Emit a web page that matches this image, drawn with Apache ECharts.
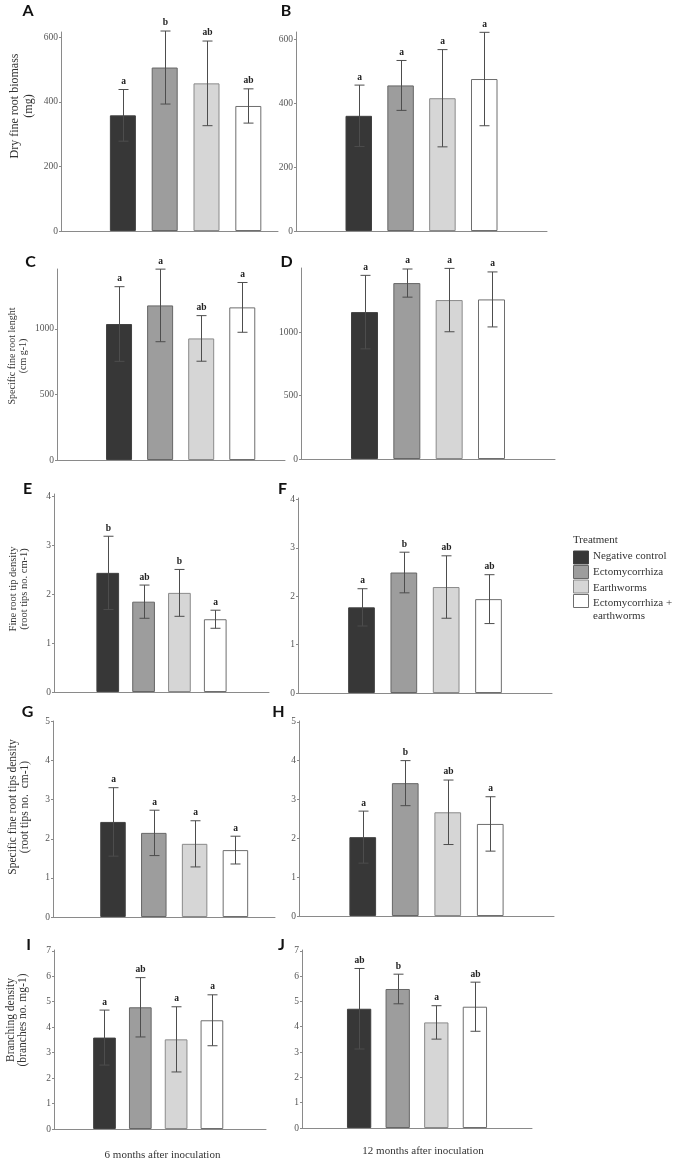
<!DOCTYPE html>
<html>
<head>
<meta charset="utf-8">
<script src="https://cdn.jsdelivr.net/npm/echarts@6/dist/echarts.min.js"></script>
<style>
html,body{margin:0;padding:0;background:#fff;}
#chart{width:685px;height:1161px;}
</style>
</head>
<body>
<div id="chart"></div>
<script>
// ---------- DATA ----------
const categories = ['Negative control', 'Ectomycorrhiza', 'Earthworms', 'Ectomycorrhiza + earthworms'];

const meanA = [358, 506, 457, 387];   const errA = [80, 113, 131, 53];     const letA = ['a', 'b', 'ab', 'ab'];
const meanB = [360, 455, 415, 475];   const errB = [96, 78, 152, 146];     const letB = ['a', 'a', 'a', 'a'];
const meanC = [1038, 1180, 928, 1165]; const errC = [285, 277, 174, 190];  const letC = ['a', 'a', 'ab', 'a'];
const meanD = [1159, 1388, 1254, 1259]; const errD = [290, 111, 250, 217]; const letD = ['a', 'a', 'a', 'a'];
const meanE = [2.44, 1.85, 2.03, 1.49]; const errE = [0.75, 0.34, 0.48, 0.185]; const letE = ['b', 'ab', 'b', 'a'];
const meanF = [1.77, 2.49, 2.19, 1.94]; const errF = [0.385, 0.42, 0.645, 0.505]; const letF = ['a', 'b', 'ab', 'ab'];
const meanG = [2.43, 2.15, 1.87, 1.71]; const errG = [0.875, 0.58, 0.59, 0.355]; const letG = ['a', 'a', 'a', 'a'];
const meanH = [2.03, 3.42, 2.67, 2.37]; const errH = [0.67, 0.58, 0.83, 0.70]; const letH = ['a', 'b', 'ab', 'a'];
const meanI = [3.59, 4.78, 3.52, 4.27]; const errI = [1.08, 1.165, 1.28, 1.0]; const letI = ['a', 'ab', 'a', 'a'];
const meanJ = [4.71, 5.49, 4.17, 4.79]; const errJ = [1.59, 0.585, 0.66, 0.97]; const letJ = ['ab', 'b', 'a', 'ab'];

const ticksBiomass = [0, 200, 400, 600];
const ticksLength = [0, 500, 1000];
const ticksTip = [0, 1, 2, 3, 4];
const ticksSpecTip = [0, 1, 2, 3, 4, 5];
const ticksBranch = [0, 1, 2, 3, 4, 5, 6, 7];

const panelLetters = ['A', 'B', 'C', 'D', 'E', 'F', 'G', 'H', 'I', 'J'];
const yTitles = [
  ['Dry fine root biomass', '(mg)'],
  ['Specific fine root lenght', '(cm g-1)'],
  ['Fine root tip density', '(root tips no. cm-1)'],
  ['Specific fine root tips density', '(root tips no.  cm-1)'],
  ['Branching density', '(branches no. mg-1)']
];
const columnTitles = ['6 months after inoculation', '12 months after inoculation'];
const legendTitle = 'Treatment';

// ---------- STYLE / LAYOUT ----------
const barColors = ['#373737', '#9d9d9d', '#d6d6d6', '#ffffff'];
const barBorders = ['#404040', '#666666', '#8a8a8a', '#6e6e6e'];
const SERIF = '"Liberation Serif", "DejaVu Serif", serif';

const panels = [
  {mean: meanA, err: errA, let: letA, ticks: ticksBiomass, left: 61,  top: 32,  width: 217, height: 199, yMax: 616,  xMin: -1.48, xMax: 3.71, barW: 26},
  {mean: meanB, err: errB, let: letB, ticks: ticksBiomass, left: 296, top: 32,  width: 251, height: 199, yMax: 622,  xMin: -1.5,  xMax: 4.5,  barW: 26.5},
  {mean: meanC, err: errC, let: letC, ticks: ticksLength,  left: 57,  top: 269, width: 228, height: 191, yMax: 1458, xMin: -1.51, xMax: 4.04, barW: 26},
  {mean: meanD, err: errD, let: letD, ticks: ticksLength,  left: 301, top: 268, width: 254, height: 191, yMax: 1507, xMin: -1.5,  xMax: 4.5,  barW: 27},
  {mean: meanE, err: errE, let: letE, ticks: ticksTip,     left: 54,  top: 494, width: 215, height: 198, yMax: 4.055, xMin: -1.5, xMax: 4.5,  barW: 22.7},
  {mean: meanF, err: errF, let: letF, ticks: ticksTip,     left: 298, top: 498, width: 254, height: 195, yMax: 4.03, xMin: -1.5,  xMax: 4.5,  barW: 26.7},
  {mean: meanG, err: errG, let: letG, ticks: ticksSpecTip, left: 53,  top: 721, width: 222, height: 196, yMax: 5.01, xMin: -1.47, xMax: 3.97, barW: 25.5},
  {mean: meanH, err: errH, let: letH, ticks: ticksSpecTip, left: 299, top: 721, width: 255, height: 195, yMax: 5.02, xMin: -1.5,  xMax: 4.5,  barW: 26.7},
  {mean: meanI, err: errI, let: letI, ticks: ticksBranch,  left: 54,  top: 950, width: 212, height: 179, yMax: 7.03, xMin: -1.41, xMax: 4.51, barW: 22.7},
  {mean: meanJ, err: errJ, let: letJ, ticks: ticksBranch,  left: 302, top: 950, width: 230, height: 178, yMax: 7.03, xMin: -1.48, xMax: 4.48, barW: 24.3}
];

const letterPos = [[28, 11], [286, 11], [30.5, 262], [286.5, 262], [27.5, 489], [282.5, 489], [27.5, 712], [278.5, 712], [28.5, 945], [281.5, 945]];
const yTitleLayout = [
  {x: [14.5, 28.5], y: 106, size: 12},
  {x: [12.5, 23.5], y: 356, size: 10},
  {x: [13.5, 24.5], y: 589, size: 10.5},
  {x: [12.5, 25], y: 807, size: 11.5},
  {x: [10.5, 23], y: 1020, size: 11.5}
];

// ---------- BUILD OPTION ----------
const grid = [], xAxis = [], yAxis = [], series = [];
panels.forEach((p, k) => {
  grid.push({left: p.left, top: p.top, width: p.width, height: p.height, containLabel: false});
  xAxis.push({
    type: 'value', gridIndex: k, min: p.xMin, max: p.xMax,
    axisLine: {show: true, onZero: false, lineStyle: {color: '#8a8a8a', width: 1}},
    axisTick: {show: false}, axisLabel: {show: false}, splitLine: {show: false}
  });
  yAxis.push({
    type: 'value', gridIndex: k, min: 0, max: p.yMax, interval: p.ticks[1] - p.ticks[0],
    axisLine: {show: true, onZero: false, lineStyle: {color: '#8a8a8a', width: 1}},
    axisTick: {show: true, length: 2, customValues: p.ticks, lineStyle: {color: '#8a8a8a'}},
    axisLabel: {show: true, customValues: p.ticks, margin: 3, color: '#555', fontSize: 9.5, fontFamily: SERIF,
      formatter: v => String(v)},
    splitLine: {show: false}
  });
  series.push({
    type: 'bar', xAxisIndex: k, yAxisIndex: k, barWidth: p.barW, silent: true,
    data: p.mean.map((v, j) => ({
      value: [j, v],
      name: categories[j],
      itemStyle: {color: barColors[j], borderColor: barBorders[j], borderWidth: 1}
    }))
  });
  const letters = p.let;
  series.push({
    type: 'custom', xAxisIndex: k, yAxisIndex: k, silent: true, clip: false, z: 5,
    encode: {x: 0, y: [1, 2]},
    data: p.mean.map((v, j) => [j, v - p.err[j], v + p.err[j]]),
    renderItem: function (params, api) {
      const x = api.value(0);
      const hi = api.coord([x, api.value(2)]);
      const lo = api.coord([x, api.value(1)]);
      const cx = Math.round(hi[0]) + 0.5;
      const cw = 5;
      const st = {stroke: '#4d4d4d', lineWidth: 1};
      return {
        type: 'group',
        children: [
          {type: 'line', shape: {x1: cx, y1: hi[1], x2: cx, y2: lo[1]}, style: st},
          {type: 'line', shape: {x1: cx - cw, y1: hi[1], x2: cx + cw, y2: hi[1]}, style: st},
          {type: 'line', shape: {x1: cx - cw, y1: lo[1], x2: cx + cw, y2: lo[1]}, style: st},
          {type: 'text', x: cx, y: hi[1] - 3, style: {
            text: letters[params.dataIndex], align: 'center', verticalAlign: 'bottom',
            fontSize: 9.5, fontWeight: 'bold', fontFamily: SERIF, fill: '#222'
          }}
        ]
      };
    }
  });
});

const graphic = [];
panelLetters.forEach((L, k) => {
  graphic.push({type: 'text', x: letterPos[k][0], y: letterPos[k][1], style: {
    text: L, align: 'center', verticalAlign: 'middle',
    fontSize: 16, fontWeight: 'bold', fontFamily: 'Lato, "Open Sans", sans-serif', fill: '#111'
  }});
});
yTitles.forEach((lines, r) => {
  const L = yTitleLayout[r];
  lines.forEach((t, i) => {
    graphic.push({type: 'text', x: L.x[i], y: L.y, rotation: Math.PI / 2, style: {
      text: t, align: 'center', verticalAlign: 'middle',
      fontSize: L.size, fontFamily: SERIF, fill: '#333'
    }});
  });
});
graphic.push({type: 'text', x: 162.5, y: 1155.5, style: {text: columnTitles[0], align: 'center', verticalAlign: 'middle', fontSize: 11, fontFamily: SERIF, fill: '#333'}});
graphic.push({type: 'text', x: 423, y: 1151, style: {text: columnTitles[1], align: 'center', verticalAlign: 'middle', fontSize: 11, fontFamily: SERIF, fill: '#333'}});

// legend
graphic.push({type: 'text', x: 573, y: 540, style: {text: legendTitle, align: 'left', verticalAlign: 'middle', fontSize: 11, fontFamily: SERIF, fill: '#333'}});
const swatchY = [551, 565.5, 580, 594.5];
const legendTextY = [[556], [572.5], [588.5], [603, 616.5]];
categories.forEach((c, j) => {
  graphic.push({type: 'rect', shape: {x: 573.5, y: swatchY[j], width: 15, height: 13},
    style: {fill: barColors[j], stroke: barBorders[j], lineWidth: 1}});
  const parts = j === 3 ? ['Ectomycorrhiza +', 'earthworms'] : [c];
  parts.forEach((t, i) => {
    graphic.push({type: 'text', x: 593, y: legendTextY[j][i], style: {
      text: t, align: 'left', verticalAlign: 'middle', fontSize: 11, fontFamily: SERIF, fill: '#333'
    }});
  });
});

const chart = echarts.init(document.getElementById('chart'), null, {renderer: 'canvas'});
chart.setOption({
  backgroundColor: '#ffffff',
  animation: false,
  grid, xAxis, yAxis, series, graphic
});
</script>
</body>
</html>
